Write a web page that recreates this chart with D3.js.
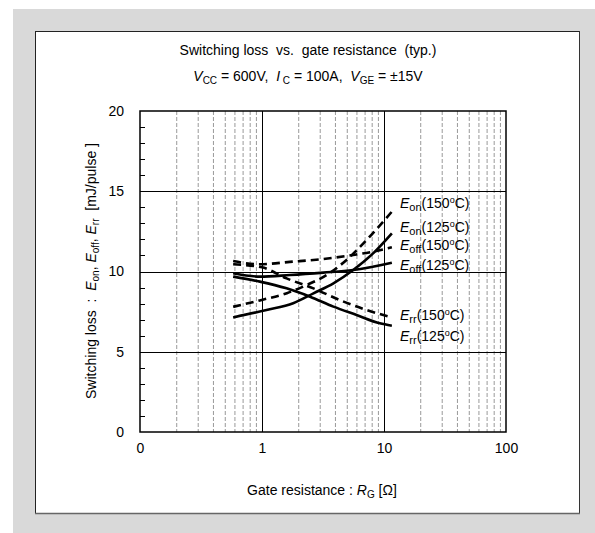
<!DOCTYPE html>
<html><head><meta charset="utf-8">
<script src="https://cdn.jsdelivr.net/npm/d3@7"></script>
<style>body{margin:0;background:#fff}text{font-family:"Liberation Sans",Arial,sans-serif;fill:#000}</style>
</head><body>
<svg id="c" width="595" height="533"></svg>
<script>
const yTicks = [0, 5, 10, 15, 20];
const xTickLabels = [[0.1, "0"], [1, "1"], [10, "10"], [100, "100"]];
const eon150 = [[0.58,7.8],[0.96,8.2],[1.6,8.65],[2.33,9.16],[3.38,9.78],[4.93,10.72],[7.19,11.96],[11.6,13.73]];
const eon125 = [[0.58,7.14],[1.09,7.6],[1.8,8.02],[2.64,8.64],[3.85,9.26],[5.59,10.09],[8.14,11.13],[11.6,12.38]];
const eoff150 = [[0.58,10.65],[0.96,10.45],[1.69,10.6],[3.18,10.78],[5.59,11.03],[8.14,11.24],[11.6,11.51]];
const eoff125 = [[0.58,9.89],[0.96,9.68],[1.69,9.78],[3.18,9.93],[5.59,10.09],[11.6,10.55]];
const err150 = [[0.58,10.45],[1.0,10.26],[1.59,9.57],[2.64,8.95],[4.34,8.22],[7.19,7.6],[11.6,7.14]];
const err125 = [[0.58,9.68],[0.96,9.37],[1.59,8.95],[2.48,8.43],[3.85,7.81],[5.96,7.29],[9.24,6.77],[11.6,6.62]];
const seriesNames = ["on","on","off","off","rr","rr"];
const seriesTemps = ["150","125","150","125","150","125"];
const labelY = [14.27, 12.77, 11.65, 10.4, 7.29, 5.98];

const svg = d3.select("#c");
svg.append("rect").attr("x",13).attr("y",9).attr("width",582).attr("height",524).attr("fill","#d9d9d9");
svg.append("rect").attr("x",36).attr("y",32).attr("width",544).attr("height",482).attr("fill","#fff");
svg.append("line").attr("x1",35.5).attr("x2",35.5).attr("y1",31).attr("y2",514).attr("stroke","#222");
svg.append("line").attr("x1",35).attr("x2",580).attr("y1",31.5).attr("y2",31.5).attr("stroke","#222");
svg.append("line").attr("x1",579.5).attr("x2",579.5).attr("y1",31).attr("y2",514).attr("stroke","#333");
svg.append("line").attr("x1",35).attr("x2",580).attr("y1",513.5).attr("y2",513.5).attr("stroke","#666").attr("stroke-width",1.5);

const L=140, R=506, T=111, B=432;
const x = d3.scaleLog().domain([0.1,100]).range([L,R]);
const y = d3.scaleLinear().domain([0,20]).range([B,T]);
const g = svg.append("g");

const minors = [];
[0.1,1,10].forEach(d=>{for(let k=2;k<=9;k++) minors.push(d*k);});
g.selectAll(".mv").data(minors).join("line")
 .attr("x1",d=>x(d)).attr("x2",d=>x(d)).attr("y1",T).attr("y2",B)
 .attr("stroke","#999").attr("stroke-width",1).attr("stroke-dasharray","4,2");
g.selectAll(".Mv").data([1,10]).join("line")
 .attr("x1",d=>Math.round(x(d))+0.5).attr("x2",d=>Math.round(x(d))+0.5).attr("y1",T).attr("y2",B)
 .attr("stroke","#000").attr("stroke-width",1);
g.selectAll(".Mh").data([5,10,15]).join("line")
 .attr("x1",L).attr("x2",R).attr("y1",d=>Math.round(y(d))+0.5).attr("y2",d=>Math.round(y(d))+0.5)
 .attr("stroke","#000").attr("stroke-width",1);
g.selectAll(".yt").data(d3.range(1,20)).join("line")
 .attr("x1",L).attr("x2",L+5).attr("y1",d=>Math.round(y(d))+0.5).attr("y2",d=>Math.round(y(d))+0.5)
 .attr("stroke","#000");
g.append("rect").attr("x",L).attr("y",T).attr("width",R-L).attr("height",B-T)
 .attr("fill","none").attr("stroke","#000").attr("stroke-width",1.5);

const yAxis = d3.axisLeft(y).tickValues(yTicks).tickSize(0).tickPadding(16);
const ya = svg.append("g").attr("transform",`translate(${L},0)`).call(yAxis);
ya.select(".domain").remove();
ya.selectAll("text").style("font-size","14px").style("font-family","'Liberation Sans',Arial,sans-serif");
const xAxis = d3.axisBottom(x).tickValues(xTickLabels.map(d=>d[0])).tickFormat((d,i)=>xTickLabels[i][1]).tickSize(0).tickPadding(11);
const xa = svg.append("g").attr("transform",`translate(0,${B})`).call(xAxis);
xa.select(".domain").remove();
xa.selectAll("text").style("font-size","14px").style("font-family","'Liberation Sans',Arial,sans-serif");

const line = d3.line().x(d=>x(d[0])).y(d=>y(d[1])).curve(d3.curveMonotoneX);
const all = [eon150,eon125,eoff150,eoff125,err150,err125];
all.forEach((s,i)=>{
  svg.append("path").attr("d",line(s)).attr("fill","none").attr("stroke","#000")
   .attr("stroke-width",2.6).attr("stroke-dasharray", i%2===0 ? "8,5" : null);
});

all.forEach((s,i)=>{
  const t = svg.append("text").attr("x",400).attr("y",y(labelY[i])+5).style("font-size","14px");
  t.append("tspan").attr("font-style","italic").text("E");
  t.append("tspan").attr("dy",3).style("font-size","11px").text(seriesNames[i]);
  t.append("tspan").attr("dy",-3).text("("+seriesTemps[i]);
  t.append("tspan").attr("dy",-5).style("font-size","9px").text("o");
  t.append("tspan").attr("dy",5).text("C)");
});

svg.append("text").attr("x",308).attr("y",55).attr("text-anchor","middle").style("font-size","14px")
 .text("Switching loss\u00a0 vs.\u00a0 gate resistance\u00a0 (typ.)");
const st = svg.append("text").attr("x",308).attr("y",81).attr("text-anchor","middle").style("font-size","14px");
st.append("tspan").attr("font-style","italic").text("V");
st.append("tspan").attr("dy",3).style("font-size","10px").text("CC");
st.append("tspan").attr("dy",-3).text(" = 600V,\u00a0 ");
st.append("tspan").attr("font-style","italic").text("I");
st.append("tspan").attr("dy",3).style("font-size","10px").text(" C");
st.append("tspan").attr("dy",-3).text(" = 100A,\u00a0 ");
st.append("tspan").attr("font-style","italic").text("V");
st.append("tspan").attr("dy",3).style("font-size","10px").text("GE");
st.append("tspan").attr("dy",-3).text(" = \u00b115V");

const xl = svg.append("text").attr("x",322).attr("y",495).attr("text-anchor","middle").style("font-size","14px");
xl.append("tspan").text("Gate resistance : ");
xl.append("tspan").attr("font-style","italic").text("R");
xl.append("tspan").attr("dy",3).style("font-size","10px").text("G");
xl.append("tspan").attr("dy",-3).text(" [\u03a9]");

const yl = svg.append("text").attr("transform","translate(96,271) rotate(-90)").attr("text-anchor","middle").style("font-size","14px");
yl.append("tspan").text("Switching loss\u00a0 :\u00a0 ");
yl.append("tspan").attr("font-style","italic").text("E");
yl.append("tspan").attr("dy",3).style("font-size","10px").text("on");
yl.append("tspan").attr("dy",-3).text(", ");
yl.append("tspan").attr("font-style","italic").text("E");
yl.append("tspan").attr("dy",3).style("font-size","10px").text("off");
yl.append("tspan").attr("dy",-3).text(", ");
yl.append("tspan").attr("font-style","italic").text("E");
yl.append("tspan").attr("dy",3).style("font-size","10px").text("rr");
yl.append("tspan").attr("dy",-3).text("\u00a0 [mJ/pulse ]");
</script>
</body></html>
